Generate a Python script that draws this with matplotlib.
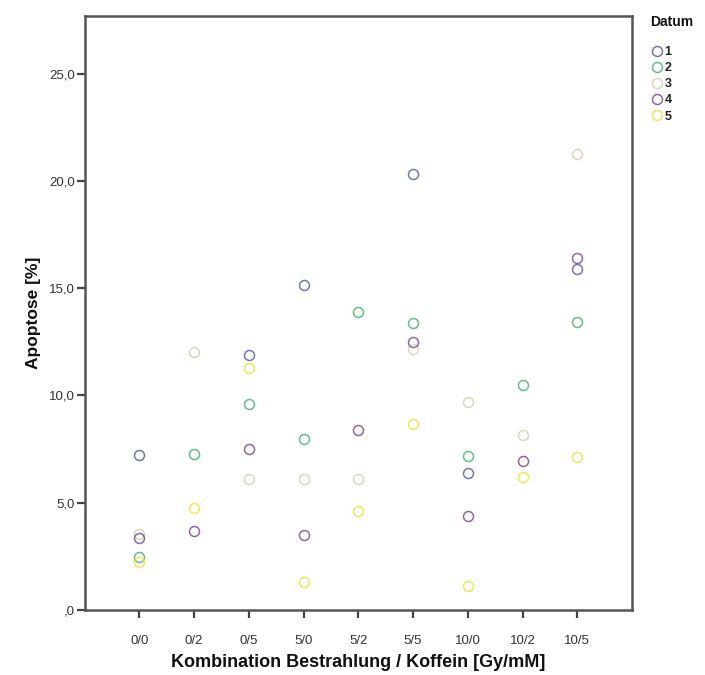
import matplotlib.pyplot as plt
import numpy as np
from matplotlib.ticker import FuncFormatter

plt.rcParams['font.family'] = ['Liberation Sans', 'DejaVu Sans']

# Kombination Bestrahlung / Koffein
groups = ['0/0', '0/2', '0/5', '5/0', '5/2', '5/5', '10/0', '10/2', '10/5']

# Apoptose [%] per Datum (nan = kein Messwert)
datum_1 = [7.2, np.nan, 11.9, 15.15, np.nan, 20.3, 6.37, np.nan, 15.88]
datum_2 = [2.47, 7.27, 9.62, 7.97, 13.87, 13.37, 7.19, 10.48, 13.41]
datum_3 = [3.56, 12.0, 6.09, 6.09, 6.1, 12.16, 9.7, 8.17, 21.25]
datum_4 = [3.37, 3.69, 7.51, 3.48, 8.37, 12.5, 4.37, 6.95, 16.41]
datum_5 = [2.23, 4.73, 11.3, 1.29, 4.62, 8.69, 1.11, 6.22, 7.11]

series = [datum_1, datum_2, datum_3, datum_4, datum_5]
labels = ['1', '2', '3', '4', '5']
colors = ['#5560AE', '#48B474', '#D6D0B4', '#834A8E', '#F0E23C']

W, H = 705, 675
fig = plt.figure(figsize=(W / 100, H / 100), dpi=100)
ax = fig.add_axes([0.120, 0.0963, 0.7765, 0.8806])

x = np.arange(len(groups))
for vals, lab, col in zip(series, labels, colors):
    ax.plot(x, vals, linestyle='none', marker='o', markersize=7.2,
            markerfacecolor='none', markeredgecolor=col, markeredgewidth=1.1,
            alpha=0.85, label=lab)

ax.set_xlim(-1, 9)
ax.set_ylim(0, 27.7)
ax.set_xticks(x)
ax.set_xticklabels(groups)
ax.set_yticks([0, 5, 10, 15, 20, 25])


def comma_fmt(v, pos):
    s = f'{v:.1f}'.replace('.', ',')
    return s[1:] if s.startswith('0') else s


ax.yaxis.set_major_formatter(FuncFormatter(comma_fmt))

for side in ['left', 'right', 'top', 'bottom']:
    ax.spines[side].set_color('#555555')
    ax.spines[side].set_linewidth(1.8)

ax.tick_params(axis='both', direction='out', length=6, width=1.6, color='#444444',
               labelsize=9.5, labelcolor='#333333')
ax.tick_params(axis='x', pad=12)
ax.tick_params(axis='y', pad=1)

ax.set_xlabel('Kombination Bestrahlung / Koffein [Gy/mM]', fontsize=13,
              fontweight='bold', color='#111111', labelpad=5)
ax.set_ylabel('Apoptose [%]', fontsize=12.5, fontweight='bold',
              color='#111111', labelpad=6)

# legend: title placed separately, items below it
fig.text(650 / W, 1 - 22 / H, 'Datum', fontsize=10, fontweight='bold',
         color='#111111', ha='left', va='center')
leg = ax.legend(loc='upper left', bbox_to_anchor=(649 / W, 1 - 46 / H),
                bbox_transform=fig.transFigure, frameon=False, fontsize=9,
                handletextpad=0.05, labelspacing=0.33, borderaxespad=0.0,
                borderpad=0.0, handlelength=1.2)
for t in leg.get_texts():
    t.set_fontweight('bold')
    t.set_color('#222222')

fig.savefig('out.png', dpi=100)
